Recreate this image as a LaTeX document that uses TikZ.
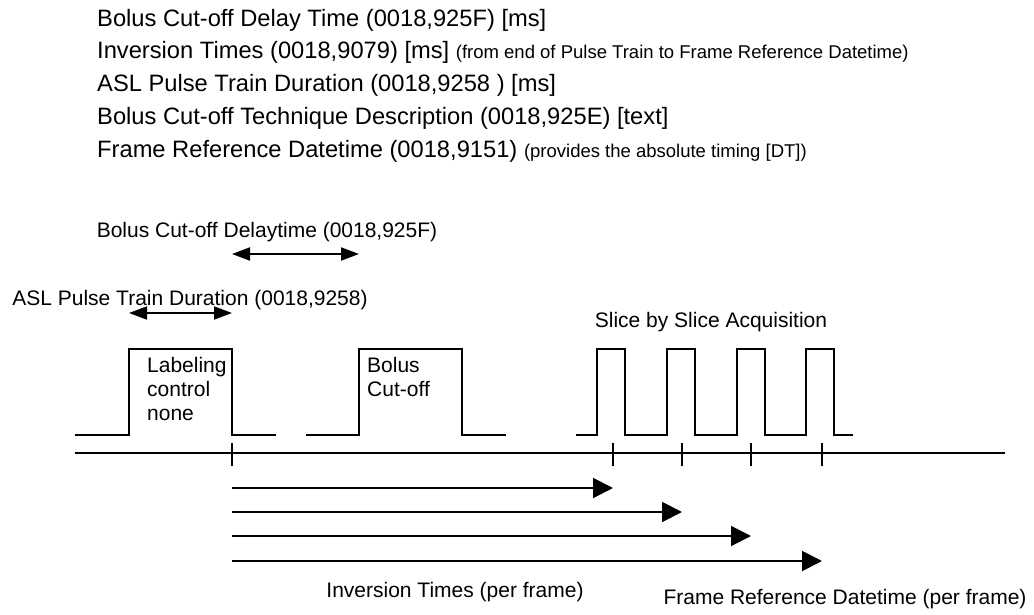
\documentclass[tikz,border=0pt]{standalone}
\usepackage{fontspec}
\setmainfont{Liberation Sans}
\usepackage{tikz}
\usetikzlibrary{arrows.meta, positioning, calc}

\newcommand{\smallnote}{\fontsize{18.5}{22}\selectfont}

\begin{document}
\begin{tikzpicture}[
    x=1pt, y=-1pt,
    listline/.style={anchor=west, inner sep=0pt, font=\fontsize{23.7}{28}\selectfont},
    tag/.style={inner sep=0pt, font=\fontsize{21}{24}\selectfont},
    pulsetext/.style={tag, anchor=north west, align=left},
    signal/.style={line width=2pt},
    spanarrow/.style={line width=2pt, {Triangle[length=18pt,width=13pt]}-{Triangle[length=18pt,width=13pt]}},
    timearrow/.style={line width=2pt, -{Triangle[length=20pt,width=20pt]}}
]
\useasboundingbox (0,0) rectangle (1034,615);

\node[listline] (cutoffdelay) at (97,20) {Bolus Cut-off Delay Time (0018,925F) [ms]};
\node[listline] (inversion) at (97,52) {Inversion Times (0018,9079) [ms] {\smallnote (from end of Pulse Train to Frame Reference Datetime)}};
\node[listline] (pulseduration) at (97,85) {ASL Pulse Train Duration (0018,9258 ) [ms]};
\node[listline] (technique) at (97,118) {Bolus Cut-off Technique Description (0018,925E) [text]};
\node[listline] (framedatetime) at (97,151) {Frame Reference Datetime (0018,9151) {\smallnote (provides the absolute timing [DT])}};

\coordinate (labup) at (129,349);
\coordinate (labdown) at (232,349);
\coordinate (bolup) at (359,349);

\draw[signal] (75,435) -| (labup) -- (labdown) |- (276,435);
\draw[signal] (306,435) -| (bolup) -- (462,349) |- (506,435);
\draw[signal] (576,435) \foreach \x in {597,667,737,806}{ -- (\x,435) -- (\x,349) -- ({\x+28},349) -- ({\x+28},435)} -- (853,435);

\node[pulsetext] (labeling) at (147,357) {Labeling\\control\\none};
\node[pulsetext] (cutoff) at (367,357) {Bolus\\Cut-off};
\node[tag] (slicetag) at (711,322) {Slice by Slice Acquisition};

\node[tag] (delaytag) at (267,232) {Bolus Cut-off Delaytime (0018,925F)};
\node[tag] (durationtag) at (190,300) {ASL Pulse Train Duration (0018,9258)};
\draw[spanarrow] ([yshift=95pt]labdown) -- ([yshift=95pt]bolup);
\draw[spanarrow] ([yshift=36pt]labup) -- ([yshift=36pt]labdown);

\draw[signal] (75,453) -- (1005,453);
\foreach \x [count=\i from 0] in {232,613,682,751,822}{
  \coordinate (tick\i) at (\x,453);
  \draw[signal] ([yshift=10pt]tick\i) -- ([yshift=-13pt]tick\i);
}
\foreach \i/\dy in {1/35,2/59,3/83,4/108}
  \draw[timearrow] ([yshift=-\dy pt]tick0) -- ([yshift=-\dy pt]tick\i);

\node[tag] (inversiontag) at (455,592) {Inversion Times (per frame)};
\node[tag] (frametag) at (845,599) {Frame Reference Datetime (per frame)};

\end{tikzpicture}
\end{document}
